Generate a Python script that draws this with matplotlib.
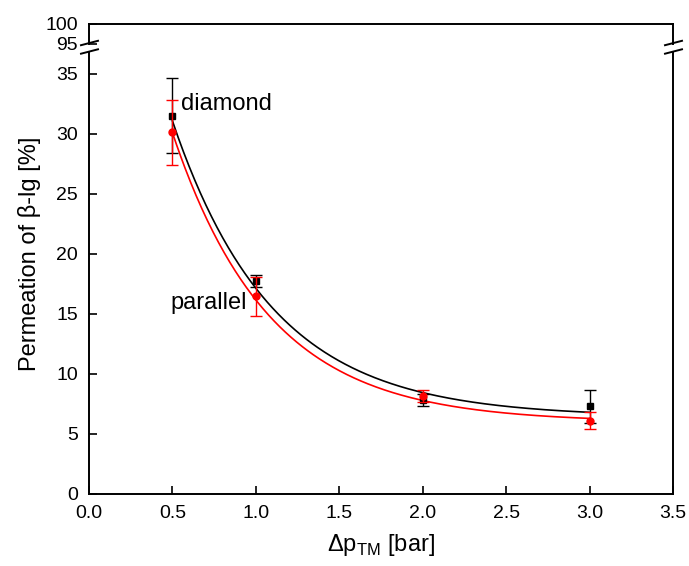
import numpy as np
import matplotlib
matplotlib.use("Agg")
import matplotlib.pyplot as plt
from matplotlib.lines import Line2D

plt.rcParams['font.family'] = ['Liberation Sans', 'DejaVu Sans']
plt.rcParams['mathtext.fontset'] = 'custom'
plt.rcParams['mathtext.rm'] = 'Liberation Sans'

# ---- data ----
pressure = [0.5, 1.0, 2.0, 3.0]
diamond_mean = [31.5, 17.7, 7.8, 7.3]
diamond_err = [3.1, 0.5, 0.5, 1.35]
parallel_mean = [30.1, 16.45, 8.2, 6.1]
parallel_err = [2.7, 1.65, 0.5, 0.7]
# exponential-decay fit parameters (y0, A, t)
diamond_fit = [6.42, 56.7, 0.60]
parallel_fit = [5.97, 57.1, 0.58]

W, H = 689, 566
fig = plt.figure(figsize=(W / 100, H / 100), dpi=100)

left = 89 / W
width = (673 - 89) / W
ax = fig.add_axes([left, (H - 494) / H, width, (494 - 52) / H])
axt = fig.add_axes([left, (H - 44) / H, width, 20 / H], sharex=ax)

lw_spine = 1.4
for a in (ax, axt):
    for s in a.spines.values():
        s.set_linewidth(lw_spine)
    a.tick_params(direction='in', length=6, width=1.2, labelsize=14,
                  right=False, top=False)
ax.spines['top'].set_visible(False)
axt.spines['bottom'].set_visible(False)
axt.tick_params(bottom=False, labelbottom=False)
ax.tick_params(axis='x', pad=8)
ax.tick_params(axis='y', pad=8)
axt.tick_params(axis='y', pad=8)

ax.set_xlim(0, 3.5)
ax.set_xticks(np.arange(0, 3.51, 0.5))
ax.set_xticklabels([f"{v:.1f}" for v in np.arange(0, 3.51, 0.5)])
ax.set_ylim(0, 36.8)
ax.set_yticks([0, 5, 10, 15, 20, 25, 30, 35])
axt.set_ylim(95, 100)
axt.set_yticks([95, 100])

# fit curves
xf = np.linspace(min(pressure), max(pressure), 300)
for p, c in ((diamond_fit, 'black'), (parallel_fit, 'red')):
    y0, A, t = p
    ax.plot(xf, y0 + A * np.exp(-xf / t), color=c, lw=1.2, zorder=2)

# points with error bars
ax.errorbar(pressure, diamond_mean, yerr=diamond_err, fmt='s', color='black',
            ms=5, capsize=4, elinewidth=1, capthick=1, zorder=3)
ax.errorbar(pressure, parallel_mean, yerr=parallel_err, fmt='o', color='red',
            ms=5, capsize=4, elinewidth=1, capthick=1, zorder=4)

ax.text(0.552, 32.5, "diamond", fontsize=17, ha='left', va='center')
ax.text(0.948, 15.9, "parallel", fontsize=17, ha='right', va='center')

fig.text(381 / W, 1 - 545 / H, r"Δp$_\mathregular{TM}$ [bar]", fontsize=17,
         ha='center', va='center')
fig.text(30 / W, 1 - 254 / H, "Permeation of β-lg [%]", fontsize=17,
         rotation=90, ha='center', va='center')

# break marks
for xp in (89, 673):
    for yc in (43, 51.5):
        fig.add_artist(Line2D([(xp - 8) / W, (xp + 9) / W],
                              [1 - (yc + 2.2) / H, 1 - (yc - 2.2) / H],
                              transform=fig.transFigure, color='black', lw=1.4))

fig.savefig("out.png", dpi=100)
